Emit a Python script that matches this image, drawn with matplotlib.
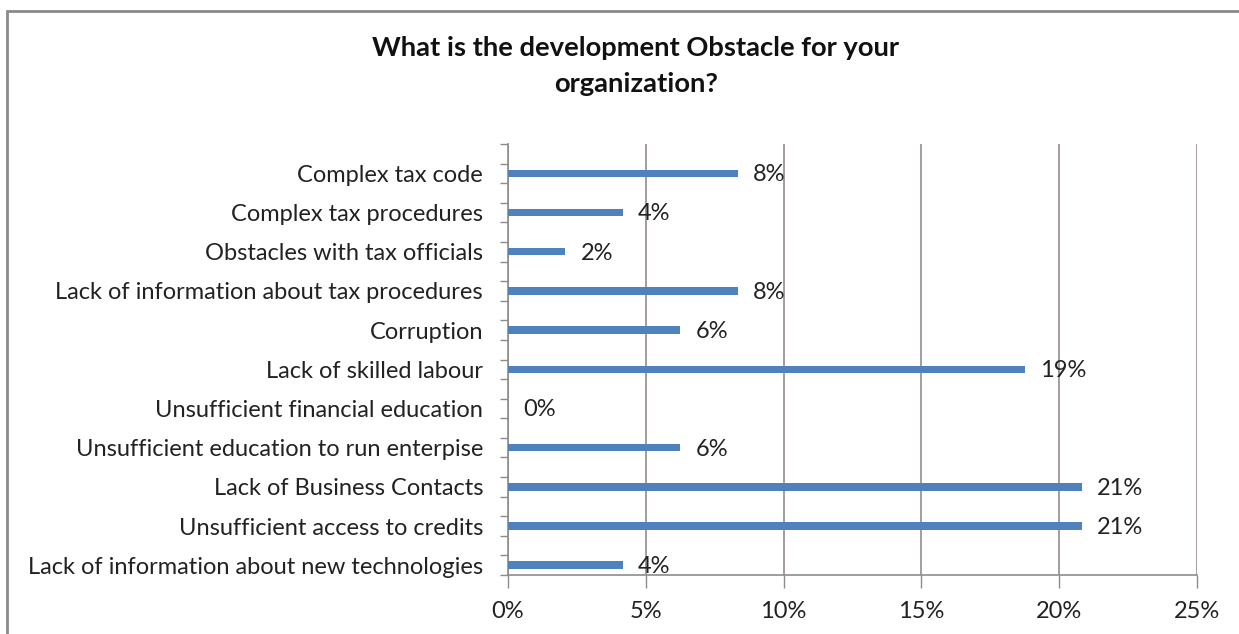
import numpy as np
import matplotlib.pyplot as plt
from matplotlib.patches import Rectangle
from matplotlib.ticker import FixedLocator, PercentFormatter

plt.rcParams['font.family'] = ['Lato', 'DejaVu Sans']

# survey answers, top to bottom as listed in the chart
categories = [
    "Complex tax code",
    "Complex tax procedures",
    "Obstacles with tax officials",
    "Lack of information about tax procedures",
    "Corruption",
    "Lack of skilled labour",
    "Unsufficient financial education",
    "Unsufficient education to run enterpise",
    "Lack of Business Contacts",
    "Unsufficient access to credits",
    "Lack of information about new technologies",
]
# share of respondents (%), 48 answers in total
shares = [8.33, 4.17, 2.08, 8.33, 6.25, 18.75, 0.0, 6.25, 20.83, 20.83, 4.17]
x_ticks = [0, 5, 10, 15, 20, 25]

bar_color = "#4f81bd"
grid_color = "#968b8b"
text_color = "#222222"

fig = plt.figure(figsize=(12.39, 6.34), dpi=100)
ax = fig.add_axes([508 / 1239, 1 - 575 / 634, 689 / 1239, 431 / 634])

y = np.arange(len(categories))
ax.barh(y, shares, height=0.19, color=bar_color, zorder=3)

for yi, v in zip(y, shares):
    ax.annotate(f"{v:.0f}%", (v, yi), xytext=(11, -1), textcoords="offset points",
                ha="left", va="center", fontsize=17, color=text_color, zorder=4)

ax.set_xlim(0, 25)
ax.set_ylim(len(categories) - 0.75, -0.75)

ax.set_xticks(x_ticks)
ax.xaxis.set_major_formatter(PercentFormatter(decimals=0))
ax.tick_params(axis="x", length=9, width=1, color="#8c8c8c", pad=10,
               labelsize=17, labelcolor=text_color)

ax.set_yticks(y)
ax.set_yticklabels(categories)
ax.tick_params(axis="y", which="major", length=0, pad=18,
               labelsize=17, labelcolor=text_color)
ax.yaxis.set_minor_locator(FixedLocator(np.arange(-0.75, len(categories) - 0.5, 0.5)))
ax.tick_params(axis="y", which="minor", length=6, width=1, color="#8c8c8c")

ax.grid(axis="x", color=grid_color, linewidth=1.2, zorder=1)
for side in ("top", "right"):
    ax.spines[side].set_visible(False)
for side in ("left", "bottom"):
    ax.spines[side].set_color("#8c8c8c")
    ax.spines[side].set_linewidth(1.2)

fig.text(636 / 1239, 1 - 66 / 634,
         "What is the development Obstacle for your\norganization?",
         ha="center", va="center", fontsize=19.7, fontweight="bold",
         color="#111111", linespacing=1.65)

# outer chart frame
fig.patches.append(Rectangle((7 / 1239, -0.05), 1.05, 1.05 - 11 / 634,
                             transform=fig.transFigure, fill=False,
                             edgecolor="#8a8a8a", linewidth=2))

fig.savefig("out.png", dpi=100, facecolor="white")
